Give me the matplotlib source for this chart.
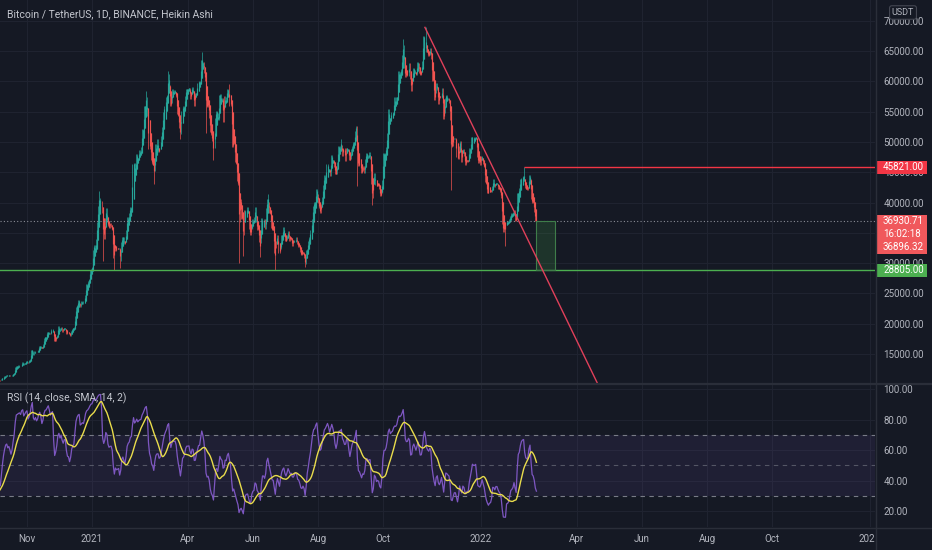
import numpy as np
import pandas as pd
import matplotlib
matplotlib.use("Agg")
import matplotlib.pyplot as plt
import matplotlib.dates as mdates
from matplotlib.patches import Rectangle
from matplotlib.lines import Line2D
from matplotlib.transforms import Bbox, TransformedBbox, blended_transform_factory

plt.rcParams["font.family"] = ["Roboto", "DejaVu Sans"]

# ---- daily closes (USDT) ----
close_2020_09 = [11920, 11390, 10170, 10470, 10170, 10250, 10370, 10130, 10220, 10340,
                 10390, 10440, 10330, 10680, 10790, 10950, 10940, 10930, 11080, 10920,
                 10420, 10540, 10240, 10740, 10690, 10730, 10770, 10710, 10840, 10780]
close_2020_10 = [10620, 10570, 10550, 10670, 10790, 10600, 10670, 10920, 11060, 11300,
                 11370, 11540, 11430, 11420, 11500, 11320, 11370, 11500, 11750, 11920,
                 12820, 12970, 12930, 13120, 13030, 13070, 13650, 13270, 13460, 13560,
                 13800]
close_2020_11 = [13760, 13550, 14020, 14150, 15590, 15580, 14830, 15480, 15330, 15310,
                 15700, 16280, 16330, 16070, 15960, 16730, 17660, 17800, 17820, 18660,
                 18680, 18410, 18370, 19160, 18720, 17150, 17140, 17720, 18180, 19700]
close_2020_12 = [18790, 19220, 19450, 18700, 19150, 19360, 19170, 18320, 18550, 18250,
                 18040, 18800, 19170, 19270, 19440, 21310, 22800, 23110, 23860, 23480,
                 22740, 23820, 23240, 23730, 24710, 26490, 26280, 27080, 27360, 28890,
                 28990]
close_2021_01 = [29370, 32200, 33000, 31990, 33950, 36820, 39370, 40670, 40240, 38240,
                 35540, 34010, 37390, 39160, 36830, 36180, 35790, 36630, 35890, 35470,
                 30850, 32950, 32080, 32260, 32250, 32510, 30430, 33410, 34260, 34240,
                 33090]
close_2021_02 = [33500, 35510, 37620, 36930, 38290, 39190, 38860, 46370, 46480, 44830,
                 47970, 47400, 47240, 48720, 47930, 49150, 52150, 51670, 55890, 55920,
                 57410, 54200, 48870, 49700, 47090, 46340, 46180, 45140]
close_2021_03 = [49630, 48380, 50540, 48370, 48760, 48880, 50970, 52380, 54880, 55860,
                 57330, 57810, 61180, 59400, 55900, 56470, 58790, 57950, 58620, 58240,
                 57350, 54570, 54330, 52300, 51300, 55140, 55890, 55780, 57600, 58760,
                 58800]
close_2021_04 = [58740, 58970, 57060, 58200, 59130, 57990, 55950, 58080, 58090, 59770,
                 60000, 59860, 63500, 62960, 63200, 61400, 60000, 56200, 55720, 56470,
                 53900, 51700, 51150, 50110, 49070, 54020, 55030, 54820, 53560, 57750]
close_2021_05 = [57830, 56630, 57210, 53240, 57520, 56430, 57340, 58800, 58230, 55860,
                 56700, 49150, 49700, 49880, 46760, 46430, 43540, 42910, 36830, 40600,
                 37270, 37540, 34700, 38800, 38320, 39240, 38440, 35660, 34620, 35680,
                 37290]
close_2021_06 = [36690, 37570, 39190, 36850, 35520, 35800, 33550, 33400, 37390, 36690,
                 37340, 35550, 39020, 40520, 40140, 38350, 38090, 35820, 35480, 35600,
                 31680, 32500, 33670, 34660, 31590, 32280, 34700, 34490, 35910, 35040]
close_2021_07 = [33570, 33800, 34660, 35290, 33690, 34220, 33860, 32880, 33810, 33510,
                 34260, 33090, 32730, 32820, 31780, 31390, 31530, 31800, 30840, 29790,
                 32140, 32290, 33580, 34290, 35400, 37280, 39460, 40020, 40020, 42210,
                 41460]
close_2021_08 = [39850, 39150, 38200, 39720, 40870, 42820, 44610, 43820, 46290, 45600,
                 45580, 44420, 47830, 47090, 47020, 45940, 44690, 44710, 46760, 49340,
                 48870, 49280, 49510, 47700, 48950, 46860, 49070, 48900, 48810, 46990,
                 47160]
close_2021_09 = [48850, 49280, 50030, 49940, 51770, 52660, 46860, 46070, 46400, 44850,
                 45170, 46030, 44950, 47110, 48140, 47760, 47300, 48310, 47260, 42990,
                 40700, 43580, 44880, 42840, 42720, 43210, 42240, 41030, 41520, 43790]
close_2021_10 = [48140, 47710, 48200, 49110, 51510, 55360, 53810, 53970, 54960, 54660,
                 57470, 56010, 57370, 57350, 61670, 60880, 61530, 62010, 64280, 66000,
                 62210, 60690, 61290, 60860, 63080, 60330, 58450, 60620, 62270, 61880,
                 61320]
close_2021_11 = [61000, 63230, 62940, 61430, 61010, 61530, 63310, 67550, 66970, 64880,
                 64810, 64160, 64400, 65500, 63610, 60060, 60360, 56890, 58050, 59710,
                 58620, 56290, 57570, 57170, 58960, 53730, 54720, 57270, 57810, 56950]
close_2021_12 = [57200, 56500, 53600, 49200, 49400, 50600, 50500, 50600, 47500, 47100,
                 49400, 50100, 46700, 48400, 48900, 47600, 46200, 46900, 46700, 46900,
                 49000, 48600, 50800, 50800, 50400, 50800, 50700, 47500, 46500, 47100,
                 46200]
close_2022_01 = [47700, 47300, 46400, 45800, 43400, 43100, 41500, 41700, 41900, 41800,
                 42700, 43900, 42600, 43100, 43200, 43100, 42200, 42400, 41700, 40700,
                 36400, 35100, 36300, 36700, 36900, 36800, 37200, 37700, 38200, 37900,
                 38500]
close_2022_02 = [38700, 37000, 37300, 41600, 41400, 42400, 43800, 44000, 44400, 43500,
                 42400, 42200, 42100, 42600, 44600, 43900, 40600, 40000, 40100, 38400,
                 37000, 36930.71]

month_starts = ["2020-09-01", "2020-10-01", "2020-11-01", "2020-12-01", "2021-01-01",
                "2021-02-01", "2021-03-01", "2021-04-01", "2021-05-01", "2021-06-01",
                "2021-07-01", "2021-08-01", "2021-09-01", "2021-10-01", "2021-11-01",
                "2021-12-01", "2022-01-01", "2022-02-01"]
month_closes = [close_2020_09, close_2020_10, close_2020_11, close_2020_12, close_2021_01,
                close_2021_02, close_2021_03, close_2021_04, close_2021_05, close_2021_06,
                close_2021_07, close_2021_08, close_2021_09, close_2021_10, close_2021_11,
                close_2021_12, close_2022_01, close_2022_02]

# intraday extremes that show as long wicks
wick_dates = ["2021-01-08", "2021-01-11", "2021-01-22", "2021-01-27", "2021-02-21",
              "2021-02-28", "2021-03-13", "2021-03-25", "2021-04-14", "2021-04-18",
              "2021-04-25", "2021-05-10", "2021-05-19", "2021-05-23", "2021-06-08",
              "2021-06-15", "2021-06-22", "2021-07-20", "2021-07-30", "2021-08-23",
              "2021-09-07", "2021-09-21", "2021-10-20", "2021-11-10", "2021-12-04",
              "2022-01-24", "2022-02-10"]
wick_prices = [41950, 30420, 28850, 29240, 58350,
               43000, 61780, 50400, 64850, 51540,
               47000, 59600, 30000, 31100, 31000,
               41330, 28805, 29280, 42300, 50500,
               42800, 39600, 67000, 69000, 42000,
               32900, 45821]

# drawn levels
resistance = 45821.00
support = 28805.00
last_price = 36930.71
second_price = 36896.32
countdown = "16:02:18"
trend_dates = ["2021-11-09 10:00", "2022-04-20 00:00"]
trend_prices = [68900, 10270]
box_dates = ["2022-02-21 16:00", "2022-03-11 10:00"]

price_ticks = [15000, 20000, 25000, 30000, 35000, 40000, 45000, 50000, 55000, 60000, 65000, 70000]
hidden_ticks = [35000]  # covered by the last-price tag
rsi_ticks = [20, 40, 60, 80, 100]
time_ticks = ["2020-11-01", "2021-01-01", "2021-04-01", "2021-06-01", "2021-08-01", "2021-10-01",
              "2022-01-01", "2022-04-01", "2022-06-01", "2022-08-01", "2022-10-01", "2023-01-01"]
time_labels = ["Nov", "2021", "Apr", "Jun", "Aug", "Oct", "2022", "Apr", "Jun", "Aug", "Oct", "2023"]

BG = "#151924"
GRID = "#1f2330"
SEP = "#2a2e39"
TXT = "#b2b5be"
UP = "#26a69a"
DOWN = "#ef5350"


def dnum(strings):
    return np.array([mdates.date2num(pd.Timestamp(s).to_pydatetime()) for s in strings])


# ---- Heikin Ashi candles ----
closes = pd.concat([pd.Series(v, index=pd.date_range(s, periods=len(v), freq="D"), dtype=float)
                    for s, v in zip(month_starts, month_closes)])
o = closes.shift(1).fillna(closes.iloc[0])
c = closes
h = np.maximum(o, c)
l = np.minimum(o, c)
for d, p in zip(wick_dates, wick_prices):
    ts = pd.Timestamp(d)
    h[ts] = max(h[ts], p)
    l[ts] = min(l[ts], p)

ha_close = (o + h + l + c) / 4
ha_open = ha_close.copy()
ha_open.iloc[0] = (o.iloc[0] + c.iloc[0]) / 2
for i in range(1, len(ha_open)):
    ha_open.iloc[i] = (ha_open.iloc[i - 1] + ha_close.iloc[i - 1]) / 2
ha_high = np.maximum(h, np.maximum(ha_open, ha_close))
ha_low = np.minimum(l, np.minimum(ha_open, ha_close))

# RSI on a Heikin Ashi chart uses the HA close
delta = ha_close.diff()
up = delta.clip(lower=0).ewm(alpha=1 / 14, adjust=False).mean()
dn = (-delta.clip(upper=0)).ewm(alpha=1 / 14, adjust=False).mean()
rsi = 100 - 100 / (1 + up / dn)
rsi_ma = rsi.rolling(14).mean()

x = mdates.date2num(closes.index.to_pydatetime())
cols = np.where(ha_close.values >= ha_open.values, UP, DOWN)

# ---- figure ----
fig = plt.figure(figsize=(9.32, 5.5), dpi=100, facecolor=BG)
W, H = 932, 550
ax = fig.add_axes([0, 1 - 383 / H, 875 / W, 383 / H])
ax2 = fig.add_axes([0, 1 - 527 / H, 875 / W, (527 - 384) / H], sharex=ax)

for a in (ax, ax2):
    a.set_facecolor(BG)
    for s in a.spines.values():
        s.set_visible(False)
    a.grid(True, color=GRID, lw=0.8, zorder=0)
    a.set_axisbelow(True)

ax.vlines(x, ha_low, ha_high, colors=cols, lw=0.5, zorder=2)
ax.vlines(x, np.minimum(ha_open, ha_close), np.maximum(ha_open, ha_close), colors=cols, lw=0.85, zorder=2)

xmin = dnum(["2020-10-06 17:00"])[0]
xmax = dnum(["2023-01-05 17:00"])[0]
ax.set_xlim(xmin, xmax)
ax.set_ylim(10220, 73415)

# levels and drawings
ax.axhline(support, color="#4caf50", lw=1.0, zorder=3)
ax.hlines(resistance, dnum(["2022-02-10"])[0], xmax, color="#f23645", lw=1.0, zorder=3)
ax.axhline(last_price, color="#8a8d96", lw=0.8, ls=(0, (1, 2)), zorder=3)
ax.plot(dnum(trend_dates), trend_prices, color="#e0405a", lw=1.0, zorder=4)
bx = dnum(box_dates)
ax.add_patch(Rectangle((bx[0], support), bx[1] - bx[0], last_price - support,
                       facecolor="#4caf50", alpha=0.18, edgecolor="none", zorder=3))
ax.add_patch(Rectangle((bx[0], support), bx[1] - bx[0], last_price - support,
                       facecolor="none", edgecolor="#3f7d4a", lw=0.8, zorder=3))

# price scale
ax.yaxis.tick_right()
ax.set_yticks(price_ticks)
ax.set_yticklabels(["" if v in hidden_ticks else f"{v:.2f}" for v in price_ticks])
ax.tick_params(axis="y", length=0, pad=6, labelsize=7, labelcolor=TXT)
ax.tick_params(axis="x", bottom=False, labelbottom=False)

# RSI pane
ax2.axhspan(30, 70, color="#7e57c2", alpha=0.10, lw=0, zorder=1)
ax2.axhline(70, color="#787b86", lw=0.8, ls=(0, (4, 4)), zorder=2)
ax2.axhline(50, color="#787b86", lw=0.8, ls=(0, (4, 4)), alpha=0.6, zorder=2)
ax2.axhline(30, color="#787b86", lw=0.8, ls=(0, (4, 4)), zorder=2)
ax2.plot(x, rsi.values, color="#7e57c2", lw=0.9, zorder=3)
ax2.plot(x, rsi_ma.values, color="#e9dc4c", lw=1.0, zorder=4)
ax2.set_ylim(9.5, 103.3)
ax2.yaxis.tick_right()
ax2.set_yticks(rsi_ticks)
ax2.set_yticklabels([f"{v:.2f}" for v in rsi_ticks])
ax2.tick_params(axis="y", length=0, pad=6, labelsize=7, labelcolor=TXT)
ax2.set_xticks(dnum(time_ticks))
ax2.set_xticklabels(time_labels)
ax2.tick_params(axis="x", length=0, pad=5, labelsize=7, labelcolor=TXT)
clip = TransformedBbox(Bbox([[0, 0], [875 / W, 1]]), fig.transFigure)
for lab in ax2.get_xticklabels():
    lab.set_clip_box(clip)
    lab.set_clip_on(True)

# pane separators
fig.add_artist(Line2D([0, 1], [1 - 383.5 / H] * 2, color=SEP, lw=1.6))
fig.add_artist(Line2D([0, 1], [1 - 527.5 / H] * 2, color=SEP, lw=1.0))
fig.add_artist(Line2D([875.5 / W] * 2, [0, 1], color=SEP, lw=1.0))

# price tags on the scale
tr = blended_transform_factory(fig.transFigure, ax.transData)
ppx = (73415 - 10220) / 383.0


def tag(value, top_px, bottom_px, color, lines, step_px=13.0):
    ax.add_patch(Rectangle((876 / W, value - bottom_px * ppx), 51 / W, (top_px + bottom_px) * ppx,
                           transform=tr, facecolor=color, edgecolor="none", clip_on=False, zorder=10))
    for k, t in enumerate(lines):
        ax.text(883 / W, value - k * step_px * ppx, t, transform=tr, ha="left", va="center",
                color="white", fontsize=7, clip_on=False, zorder=11)


tag(resistance, 6.5, 6.5, "#f23645", [f"{resistance:.2f}"])
tag(last_price, 6.5, 32.5, "#f0585c", [f"{last_price:.2f}", countdown, f"{second_price:.2f}"])
tag(support, 6.8, 6.8, "#4caf50", [f"{support:.2f}"])

fig.text(903 / W, 1 - 12.5 / H, "USDT", ha="center", va="center", fontsize=6.5, color=TXT,
         bbox=dict(boxstyle="round,pad=0.25", fc=BG, ec="#434651", lw=0.8), zorder=12)

fig.text(7 / W, 1 - 14 / H, "Bitcoin / TetherUS, 1D, BINANCE, Heikin Ashi", ha="left", va="center",
         fontsize=7.5, color="#c3c6ce")
fig.text(7 / W, 1 - 398 / H, "RSI (14, close, SMA, 14, 2)", ha="left", va="center",
         fontsize=7.5, color="#c3c6ce")

fig.savefig("out.png", dpi=100, facecolor=BG)
